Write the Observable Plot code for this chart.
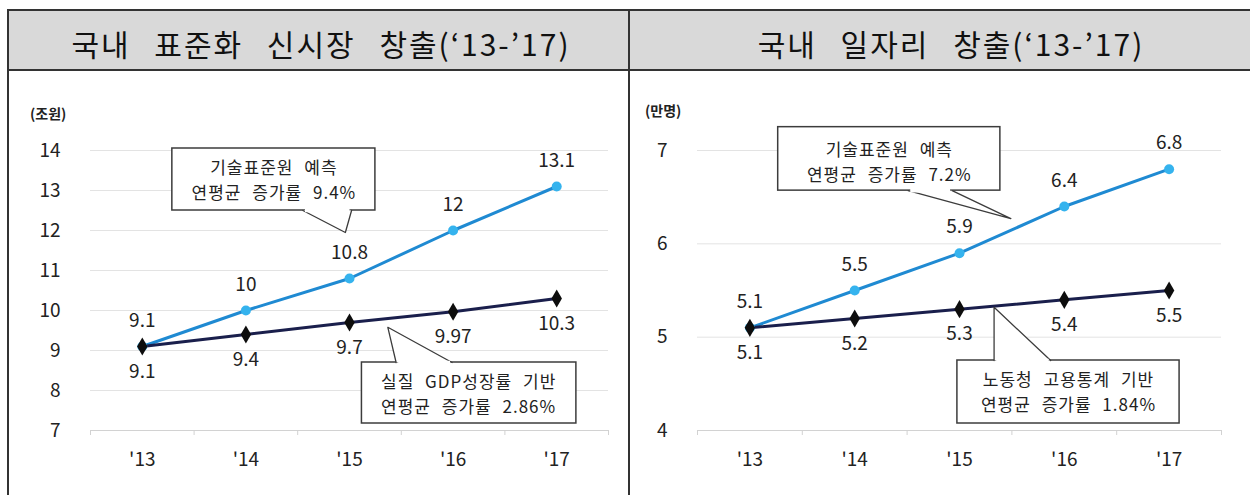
<!DOCTYPE html>
<html>
<head>
<meta charset="utf-8">
<script src="https://cdn.jsdelivr.net/npm/d3@7"></script>
<script src="https://cdn.jsdelivr.net/npm/@observablehq/plot@0.6"></script>
<style>
  html, body { margin: 0; padding: 0; background: #fff; }
  #root { position: relative; width: 1250px; height: 495px; overflow: hidden; font-family: "Noto Sans CJK KR", "Noto Sans", sans-serif; }
  .abs { position: absolute; }
  .title { font-size: 30px; color: #111; text-align: center; word-spacing: 15px; letter-spacing: 2px; white-space: nowrap; line-height: 60px; height: 60px; }
  .unit { font-size: 14px; font-weight: 700; color: #222; white-space: nowrap; }
</style>
</head>
<body>
<div id="root"></div>
<script>
// ---- data ----
const years = ["'13", "'14", "'15", "'16", "'17"];
const marketForecast = [9.1, 10, 10.8, 12, 13.1];      // 기술표준원 예측 (조원)
const marketGdp = [9.1, 9.4, 9.7, 9.97, 10.3];         // 실질 GDP성장률 기반 (조원)
const jobsForecast = [5.1, 5.5, 5.9, 6.4, 6.8];        // 기술표준원 예측 (만명)
const jobsLabor = [5.1, 5.2, 5.3, 5.4, 5.5];           // 노동청 고용통계 기반 (만명)
const marketTicks = [7, 8, 9, 10, 11, 12, 13, 14];
const jobsTicks = [4, 5, 6, 7];
const titles = ["국내 표준화 신시장 창출(‘13-’17)", "국내 일자리 창출(‘13-’17)"];
const units = ["(조원)", "(만명)"];
const marketNotes = [["기술표준원 예측", "연평균 증가률 9.4%"], ["실질 GDP성장률 기반", "연평균 증가률 2.86%"]];
const jobsNotes = [["기술표준원 예측", "연평균 증가률 7.2%"], ["노동청 고용통계 기반", "연평균 증가률 1.84%"]];

const root = document.getElementById("root");
function div(cls, css, text) {
  const d = document.createElement("div");
  d.className = "abs " + (cls || "");
  Object.assign(d.style, css);
  if (text != null) d.textContent = text;
  root.appendChild(d);
  return d;
}

// header band + frame lines
div("", {left: "8px", top: "10px", width: "1242px", height: "60px", background: "#d9d9d9"});
div("", {left: "7px", top: "9px", width: "1243px", height: "2px", background: "#333"});
div("", {left: "7px", top: "69px", width: "1243px", height: "2px", background: "#333"});
div("", {left: "7px", top: "9px", width: "2px", height: "486px", background: "#333"});
div("", {left: "628px", top: "9px", width: "2px", height: "486px", background: "#333"});

div("title", {left: "8px", top: "13px", width: "626px"}, titles[0]);
div("title", {left: "640px", top: "13px", width: "622px"}, titles[1]);

const blueLine = "#1f8ad2", blueDot = "#35b3ee", navy = "#1a1f4c", boxStroke = "#3c3c3c";
const FONT = "'Noto Sans CJK KR', 'Noto Sans', sans-serif";

function chart(cfg) {
  const idx = years.map((_, i) => i);
  const s1 = idx.map(i => ({i, v: cfg.upper[i]}));
  const s2 = idx.map(i => ({i, v: cfg.lower[i]}));
  const ymin = cfg.ticks[0], ymax = cfg.ticks[cfg.ticks.length - 1];
  const marks = [
    Plot.gridY(cfg.ticks.slice(1), {stroke: "#e3e3e3", strokeOpacity: 1}),
    Plot.ruleY([ymin], {stroke: "#d2d2d2"}),
    Plot.axisX({ticks: [-0.5, 0.5, 1.5, 2.5, 3.5, 4.5], tickFormat: () => "", tickSize: 5, stroke: "#d2d2d2", label: null}),
    Plot.axisX({ticks: idx, tickFormat: i => years[i], tickSize: 0, tickPadding: 22, fontSize: 19, label: null, fill: "#222"}),
    Plot.axisY({ticks: cfg.ticks, tickFormat: d => String(d), tickSize: 0, tickPadding: 30, fontSize: 19, label: null, fill: "#222"}),
    Plot.line(s1, {x: "i", y: "v", stroke: blueLine, strokeWidth: 3}),
    Plot.line(s2, {x: "i", y: "v", stroke: navy, strokeWidth: 3}),
    Plot.dot(s1, {x: "i", y: "v", r: 5, fill: blueDot}),
    Plot.dot(s2, {x: "i", y: "v", symbol: "diamond", r: 5.5, fill: "#0d0d0d"}),
    Plot.text(s1, {x: "i", y: "v", text: d => String(d.v), dy: -26, fontSize: 19, fill: "#222"}),
    Plot.text(s2, {x: "i", y: "v", text: d => String(d.v), dy: 25, fontSize: 19, fill: "#222"})
  ];
  for (const c of cfg.callouts) {
    marks.push(Plot.rect([c], {x1: d => d.box[0], x2: d => d.box[1], y1: d => d.box[2], y2: d => d.box[3], fill: "white", stroke: boxStroke, strokeWidth: 1.5}));
    marks.push(Plot.line(c.wedge, {x: d => d[0], y: d => d[1], fill: "white", stroke: boxStroke, strokeWidth: 1.3}));
    const [a, , b] = c.wedge;
    marks.push(Plot.link([c], {x1: a[0] + 0.02, x2: b[0] - 0.02, y1: a[1], y2: b[1], stroke: "white", strokeWidth: 3.5}));
    for (const [k, off] of [[0, -12.5], [1, 12.5]]) {
      marks.push(Plot.text([c], {x: d => d.tx, y: d => d.ty, text: d => d.text[k], fontSize: 17, dy: off, fill: "#222",
        style: {letterSpacing: "1px", wordSpacing: "6px"}}));
    }
  }
  const svg = Plot.plot({
    width: cfg.width, height: 423,
    marginLeft: cfg.ml, marginRight: cfg.mr, marginTop: 78, marginBottom: 65,
    x: {domain: [-0.5, 4.5]},
    y: {domain: [ymin, ymax]},
    style: {fontFamily: FONT, fontSize: "19px", color: "#222", background: "transparent", overflow: "visible"},
    marks
  });
  svg.querySelectorAll("text").forEach(t => {
    if (/[가-힣]/.test(t.textContent)) { t.style.letterSpacing = "1px"; t.style.wordSpacing = "6px"; }
  });
  svg.style.position = "absolute";
  svg.style.left = cfg.left + "px";
  svg.style.top = "72px";
  root.appendChild(svg);
}

chart({
  left: 9, width: 619, ml: 81, mr: 20,
  upper: marketForecast, lower: marketGdp, ticks: marketTicks,
  callouts: [
    {text: marketNotes[0], box: [0.29, 2.25, 14.05, 12.5], tx: 1.27, ty: 13.24,
     wedge: [[1.55, 12.5], [1.96, 11.95], [2.02, 12.5]]},
    {text: marketNotes[1], box: [2.12, 4.19, 8.7, 7.175], tx: 3.15, ty: 7.875,
     wedge: [[2.45, 8.7], [2.37, 9.58], [2.99, 8.7]]}
  ]
});
chart({
  left: 630, width: 620, ml: 67, mr: 29,
  upper: jobsForecast, lower: jobsLabor, ticks: jobsTicks,
  callouts: [
    {text: jobsNotes[0], box: [0.27, 2.39, 7.25, 6.57], tx: 1.33, ty: 6.865,
     wedge: [[1.51, 6.57], [2.49, 6.27], [1.93, 6.57]]},
    {text: jobsNotes[1], box: [1.98, 4.1, 4.75, 4.075], tx: 3.04, ty: 4.4,
     wedge: [[2.33, 4.75], [2.33, 5.32], [2.87, 4.75]]}
  ]
});

div("unit", {left: "30px", top: "103px"}, units[0]);
div("unit", {left: "645px", top: "100px"}, units[1]);
</script>
</body>
</html>
